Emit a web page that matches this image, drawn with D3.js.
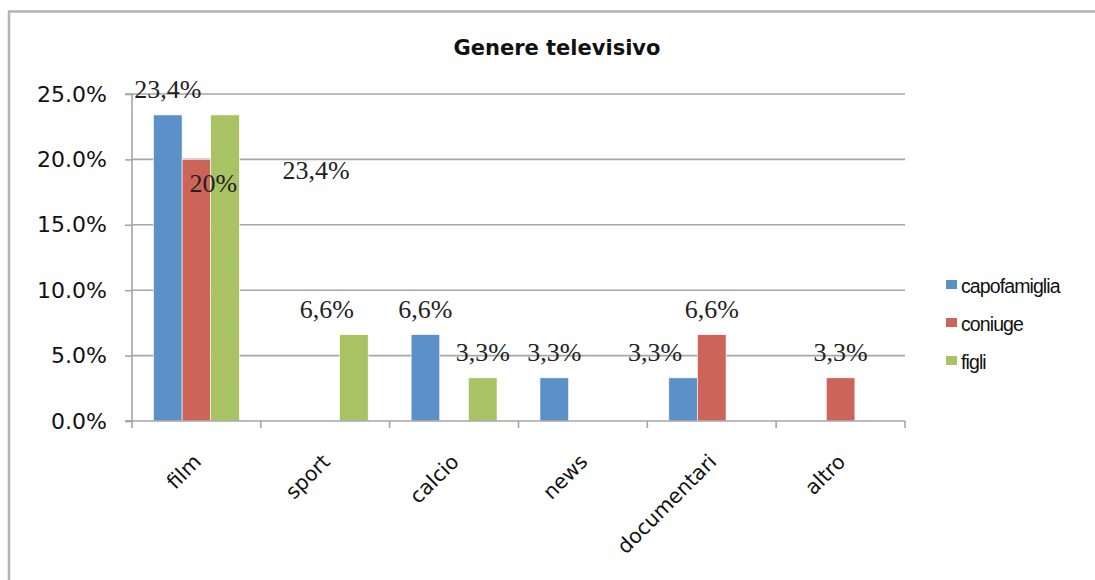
<!DOCTYPE html>
<html>
<head>
<meta charset="utf-8">
<script src="https://cdn.jsdelivr.net/npm/d3@7"></script>
<style>
  html, body { margin: 0; padding: 0; background: #fff; }
  svg { display: block; }
</style>
</head>
<body>
<svg id="chart" width="1095" height="580"></svg>
<script>
/*
 * Chart data
 */
const categories = ['film', 'sport', 'calcio', 'news', 'documentari', 'altro'];
const seriesNames = ['capofamiglia', 'coniuge', 'figli'];
const capofamiglia = [23.4, 0, 6.6, 3.3, 3.3, 0];
const coniuge = [20, 0, 0, 0, 6.6, 3.3];
const figli = [23.4, 6.6, 3.3, 0, 0, 0];
const yTicks = [0, 5, 10, 15, 20, 25];

// data labels as typed on the original (category, series, text)
const labelCats = ['film', 'film', 'film', 'sport', 'calcio', 'calcio', 'news', 'documentari', 'documentari', 'altro'];
const labelSeries = ['capofamiglia', 'coniuge', 'figli', 'figli', 'capofamiglia', 'figli', 'capofamiglia', 'capofamiglia', 'coniuge', 'coniuge'];
const labelTexts = ['23,4%', '20%', '23,4%', '6,6%', '6,6%', '3,3%', '3,3%', '3,3%', '6,6%', '3,3%'];

/*
 * Layout
 */
const colors = { capofamiglia: '#5b90c8', coniuge: '#cc645a', figli: '#a9c263' };
// hand-moved labels in the original chart, in px
const labelNudge = { 1: [17, 50], 2: [91, 81], 3: [-27, 0], 7: [-28, 0] };
const margin = { left: 132, right: 190, top: 94, bottom: 159 };
const WIDTH = 1095, HEIGHT = 580;

const values = { capofamiglia, coniuge, figli };

const svg = d3.select('#chart');

// frame
svg.append('path')
  .attr('d', 'M9,580 V11.5 H1095')
  .attr('fill', 'none')
  .attr('stroke', '#b4b4b4')
  .attr('stroke-width', 2.5);

// title
svg.append('text')
  .attr('x', 557).attr('y', 55)
  .attr('text-anchor', 'middle')
  .attr('font-family', 'DejaVu Sans, Verdana, sans-serif')
  .attr('font-weight', 'bold')
  .attr('font-size', 21)
  .attr('fill', '#111')
  .text('Genere televisivo');

const x = d3.scaleBand()
  .domain(categories)
  .range([margin.left, WIDTH - margin.right])
  .paddingInner(0).paddingOuter(0);

// excel gap width ~150%
const xs = d3.scaleBand()
  .domain(seriesNames)
  .range([0, x.bandwidth()])
  .paddingOuter(0.75)
  .paddingInner(0);

const y = d3.scaleLinear()
  .domain([0, 25])
  .range([HEIGHT - margin.bottom, margin.top]);

// gridlines
svg.append('g')
  .selectAll('line')
  .data(yTicks.slice(1))
  .join('line')
    .attr('x1', margin.left).attr('x2', x.range()[1])
    .attr('y1', d => y(d)).attr('y2', d => y(d))
    .attr('stroke', '#a6a6a6')
    .attr('stroke-width', 1.6);

// y axis
const yAxis = svg.append('g')
  .attr('transform', `translate(${margin.left},0)`)
  .call(d3.axisLeft(y).tickValues(yTicks).tickSize(7).tickPadding(18)
    .tickFormat(d => d3.format('.1f')(d) + '%'));
yAxis.select('.domain').attr('stroke', '#a6a6a6').attr('stroke-width', 1.6)
  .attr('d', `M-7,${y(25)}H0V${y(0)}H-7`);
yAxis.selectAll('.tick line').attr('stroke', '#a6a6a6').attr('stroke-width', 1.6);
yAxis.selectAll('.tick text')
  .attr('font-family', 'DejaVu Sans, Verdana, sans-serif')
  .attr('font-size', 22)
  .attr('fill', '#111');

// bars
const groups = svg.append('g')
  .selectAll('g')
  .data(categories)
  .join('g')
    .attr('transform', d => `translate(${x(d)},0)`);

groups.selectAll('rect')
  .data((c, i) => seriesNames.map(s => ({ s, v: values[s][i] })))
  .join('rect')
    .attr('x', d => xs(d.s))
    .attr('width', xs.bandwidth())
    .attr('y', d => y(d.v))
    .attr('height', d => y(0) - y(d.v))
    .attr('fill', d => colors[d.s])
    .attr('stroke', '#fff')
    .attr('stroke-width', 0.6);

// x axis
const xAxis = svg.append('g')
  .attr('transform', `translate(0,${y(0)})`)
  .call(d3.axisBottom(x).tickSize(0).tickPadding(0));
xAxis.select('.domain').remove();
xAxis.append('line')
  .attr('x1', margin.left - 7).attr('x2', x.range()[1])
  .attr('stroke', '#a6a6a6').attr('stroke-width', 1.6);
xAxis.selectAll('.bound')
  .data(categories.concat(['end']))
  .join('line')
    .attr('class', 'bound')
    .attr('x1', (d, i) => margin.left + i * x.step())
    .attr('x2', (d, i) => margin.left + i * x.step())
    .attr('y1', 0).attr('y2', 7)
    .attr('stroke', '#a6a6a6').attr('stroke-width', 1.6);
xAxis.selectAll('.tick text')
  .attr('font-family', 'DejaVu Sans, Verdana, sans-serif')
  .attr('font-size', 20.5)
  .attr('fill', '#111')
  .attr('text-anchor', 'end')
  .attr('dy', 0)
  .attr('transform', 'translate(6,42) rotate(-45)');

// data labels
svg.append('g')
  .selectAll('text')
  .data(labelTexts.map((t, i) => ({ t, c: labelCats[i], s: labelSeries[i], i })))
  .join('text')
    .attr('x', d => x(d.c) + xs(d.s) + xs.bandwidth() / 2 + (labelNudge[d.i] ? labelNudge[d.i][0] : 0))
    .attr('y', d => {
      const v = values[d.s][categories.indexOf(d.c)];
      return y(v) - 17 + (labelNudge[d.i] ? labelNudge[d.i][1] : 0);
    })
    .attr('text-anchor', 'middle')
    .attr('font-family', 'Liberation Serif, Times New Roman, serif')
    .attr('font-size', 26)
    .attr('fill', '#222')
    .text(d => d.t);

// legend
const legend = svg.append('g')
  .selectAll('g')
  .data(seriesNames)
  .join('g')
    .attr('transform', (d, i) => `translate(946,${280 + i * 38})`);
legend.append('rect')
  .attr('width', 11).attr('height', 9)
  .attr('fill', d => colors[d]);
legend.append('text')
  .attr('x', 15).attr('y', 13)
  .attr('font-family', 'Liberation Sans Narrow, Liberation Sans, sans-serif')
  .attr('font-size', 19.5)
  .attr('letter-spacing', -0.9)
  .attr('fill', '#111')
  .text(d => d);
</script>
</body>
</html>
